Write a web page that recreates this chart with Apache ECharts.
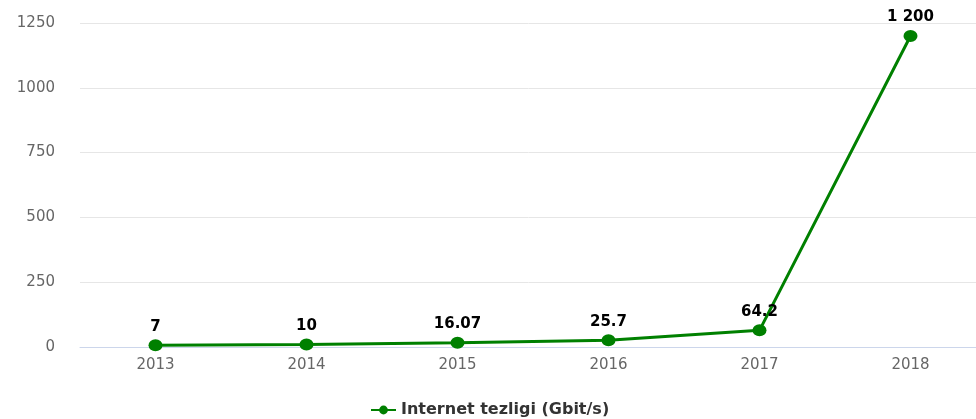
<!DOCTYPE html>
<html><head><meta charset="utf-8">
<script src="https://cdn.jsdelivr.net/npm/echarts@6/dist/echarts.min.js"></script>
<style>html,body{margin:0;padding:0;background:#fff}#c{width:976px;height:419px}</style>
</head><body><div id="c"></div>
<script>
const categories = ['2013','2014','2015','2016','2017','2018'];
const values = [7, 10, 16.07, 25.7, 64.2, 1200];
const valueLabels = ['7','10','16.07','25.7','64.2','1 200'];
const yTicks = [0, 250, 500, 750, 1000, 1250];
const seriesName = 'Internet tezligi (Gbit/s)';
const FF = '"DejaVu Sans", Verdana, sans-serif';

const chart = echarts.init(document.getElementById('c'));
chart.setOption({
  animation: false,
  textStyle: {fontFamily: FF},
  grid: {left: 80, width: 906, top: 23, bottom: 72, outerBoundsMode: 'none', containLabel: false},
  legend: {
    top: 397, left: 365,
    itemWidth: 25, itemHeight: 11, itemGap: 10,
    textStyle: {fontWeight: 'bold', fontSize: 16, color: '#333', fontFamily: FF},
    data: [seriesName]
  },
  xAxis: {
    type: 'category', data: categories, boundaryGap: true,
    axisLine: {lineStyle: {color: '#ccd6eb'}},
    axisTick: {length: 10, lineStyle: {color: '#ccd6eb'}},
    axisLabel: {color: '#666', fontSize: 15, margin: 11, fontFamily: FF}
  },
  yAxis: {
    type: 'value', min: yTicks[0], max: yTicks[yTicks.length-1], interval: 250,
    axisLine: {show: false}, axisTick: {show: false},
    axisLabel: {color: '#666', fontSize: 15, margin: 25, fontFamily: FF, formatter: v => String(v)},
    splitLine: {lineStyle: {color: '#e6e6e6'}}
  },
  series: [{
    name: seriesName, type: 'line', data: values,
    color: '#008000',
    lineStyle: {width: 3, color: '#008000'},
    symbol: 'circle', symbolSize: [14, 12],
    itemStyle: {color: '#008000'},
    label: {
      show: true, position: 'top', distance: 5,
      color: '#000', fontWeight: 'bold', fontSize: 15, fontFamily: FF,
      formatter: p => valueLabels[p.dataIndex]
    }
  }]
});
</script></body></html>
